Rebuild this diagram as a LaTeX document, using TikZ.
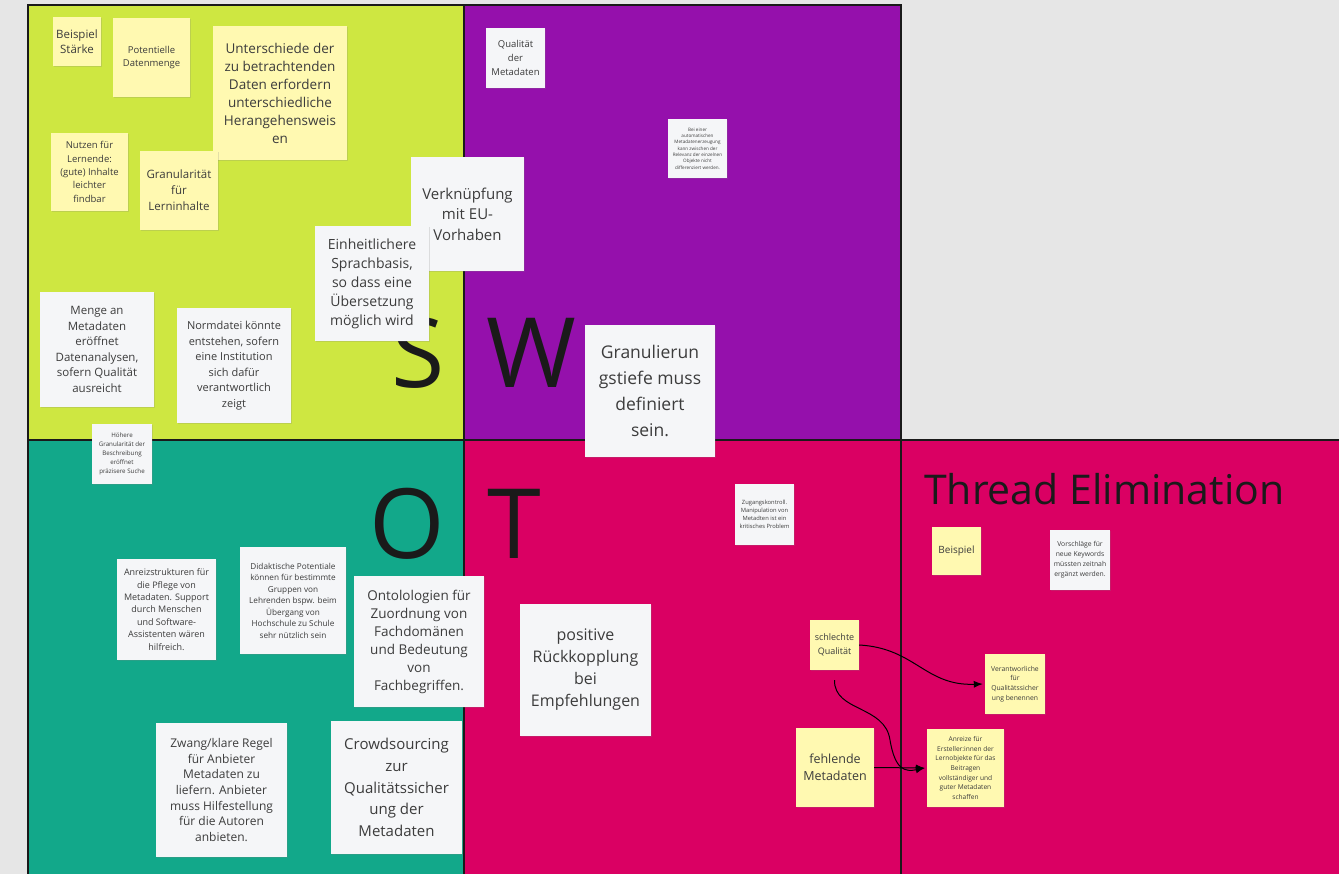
\documentclass[tikz,border=0pt]{standalone}
\usepackage{fontspec}
\setmainfont{Open Sans}
\usetikzlibrary{shadows,arrows.meta}
\definecolor{bgc}{HTML}{E6E6E6}
\definecolor{sq}{HTML}{CEE741}
\definecolor{wq}{HTML}{9510AC}
\definecolor{oq}{HTML}{12A88A}
\definecolor{tq}{HTML}{DA0063}
\definecolor{yel}{HTML}{FFF9B1}
\definecolor{wht}{HTML}{F5F6F8}
\definecolor{txt}{HTML}{3C3C3C}
\definecolor{ink}{HTML}{1A1A1A}
\newcommand\nf[2]{\fontsize{#1}{#2}\selectfont}
\begin{document}
\begin{tikzpicture}[x=1pt,y=-1pt,
  note/.style={align=center, inner sep=0pt, text=txt,
    drop shadow={opacity=0.22, shadow xshift=0.8pt, shadow yshift=-1.3pt}},
  ynote/.style={note, fill=yel},
  wnote/.style={note, fill=wht},
  big/.style={anchor=base west, inner sep=0pt, text=ink, font=\nf{97}{97}},
  conn/.style={draw=black, line width=1pt, -{Latex[length=9pt,width=7pt]}}
]
\useasboundingbox (0,0) rectangle (1339,874);
\clip (0,0) rectangle (1339,874);
\fill[bgc] (0,0) rectangle (1339,874);
% quadrants
\fill[sq] (28,5) rectangle (464,440);
\fill[wq] (464,5) rectangle (901,440);
\fill[oq] (28,440) rectangle (464,880);
\fill[tq] (464,440) rectangle (901,880);
\fill[tq] (901,440) rectangle (1345,880);
\draw[ink, line width=2pt] (28,5) rectangle (464,440);
\draw[ink, line width=2pt] (464,5) rectangle (901,440);
\draw[ink, line width=2pt] (28,440) rectangle (464,880);
\draw[ink, line width=2pt] (464,440) rectangle (901,880);
\draw[ink, line width=2pt] (901,440) rectangle (1345,880);
% big letters
\node[big] (lS) at (391,388) {S};
\node[big] (lW) at (486,388) {W};
\node[big] (lO) at (369,558) {O};
\node[big] (lT) at (487,558) {T};
\node[anchor=base west, inner sep=0pt, text=ink, font=\nf{41}{41}] (thr) at (924,504) {Thread Elimination};
% S notes
\node[ynote, minimum width=48, minimum height=49, font=\nf{11.5}{15}] (n1) at (77,41.5) {Beispiel\\Stärke};
\node[ynote, minimum width=77, minimum height=79, font=\nf{9.5}{13}] (n2) at (151.5,57.5) {Potentielle\\Datenmenge};
\node[ynote, minimum width=134, minimum height=134, font=\nf{13.5}{18}] (n3) at (280,93) {Unterschiede der\\zu betrachtenden\\Daten erfordern\\unterschiedliche\\Herangehensweis\\en};
\node[ynote, minimum width=77, minimum height=78, font=\nf{9.5}{13.3}] (n4) at (89.5,172) {Nutzen für\\Lernende:\\(gute) Inhalte\\leichter\\findbar};
\node[ynote, minimum width=78, minimum height=79, font=\nf{11.5}{16}] (n5) at (179,190.5) {Granularität\\für\\Lerninhalte};
\node[wnote, minimum width=113, minimum height=114, font=\nf{15}{20.5}] (n6) at (467.5,214) {Verknüpfung\\mit EU-\\Vorhaben};
\node[wnote, minimum width=114, minimum height=115, font=\nf{14}{19}] (n7) at (372,283.5) {Einheitlichere\\Sprachbasis,\\so dass eine\\Übersetzung\\möglich wird};
\node[wnote, minimum width=114, minimum height=115, font=\nf{11.5}{15.5}] (n8) at (97,349.5) {Menge an\\Metadaten\\eröffnet\\Datenanalysen,\\sofern Qualität\\ausreicht};
\node[wnote, minimum width=114, minimum height=115, font=\nf{11}{15.5}] (n9) at (234,365.5) {Normdatei könnte\\entstehen, sofern\\eine Institution\\sich dafür\\verantwortlich\\zeigt};
% W notes
\node[wnote, minimum width=59, minimum height=60, font=\nf{9.5}{14}] (n10) at (515.5,58) {Qualität\\der\\Metadaten};
\node[wnote, minimum width=59, minimum height=59, font=\nf{4.6}{6.3}] (n11) at (697.5,148.5) {Bei einer\\automatischen\\Metadatenerzeugung\\kann zwischen der\\Relevanz der einzelnen\\Objekte nicht\\differenziert werden.};
\node[wnote, minimum width=130, minimum height=132, font=\nf{17.5}{26}] (n12) at (650,391) {Granulierun\\gstiefe muss\\definiert\\sein.};
% O notes
\node[wnote, minimum width=60, minimum height=60, font=\nf{6.2}{9}] (n13) at (122,454) {Höhere\\Granularität der\\Beschreibung\\eröffnet\\präzisere Suche};
\node[wnote, minimum width=99, minimum height=101, font=\nf{9}{12.4}] (n15) at (166.5,609.5) {Anreizstrukturen für\\die Pflege von\\Metadaten. Support\\durch Menschen\\und Software-\\Assistenten wären\\hilfreich.};
\node[wnote, minimum width=106, minimum height=107, font=\nf{8.2}{11.5}] (n16) at (293,600.5) {Didaktische Potentiale\\können für bestimmte\\Gruppen von\\Lehrenden bspw. beim\\Übergang von\\Hochschule zu Schule\\sehr nützlich sein};
\node[wnote, minimum width=130, minimum height=131, font=\nf{13.5}{18}] (n17) at (419,641.5) {Ontolologien für\\Zuordnung von\\Fachdomänen\\und Bedeutung\\von\\Fachbegriffen.};
\node[wnote, minimum width=131, minimum height=134, font=\nf{12}{15.7}] (n19) at (221.5,790) {Zwang/klare Regel\\für Anbieter\\Metadaten zu\\liefern. Anbieter\\muss Hilfestellung\\für die Autoren\\anbieten.};
\node[wnote, minimum width=131, minimum height=133, font=\nf{15}{21.7}] (n20) at (396.5,787.5) {Crowdsourcing\\zur\\Qualitätssicher\\ung der\\Metadaten};
% T notes
\node[wnote, minimum width=59, minimum height=61, font=\nf{5.8}{8.2}] (n14) at (764.5,514.5) {Zugangskontroll.\\Manipulation von\\Metadten ist ein\\kritisches Problem};
\node[wnote, minimum width=131, minimum height=132, font=\nf{16}{22}] (n18) at (585.5,670) {positive\\Rückkopplung\\bei\\Empfehlungen};
\node[ynote, minimum width=49, minimum height=50, font=\nf{9}{13.5}] (n21) at (834.5,645) {schlechte\\Qualität};
\node[ynote, minimum width=78, minimum height=79, font=\nf{12.5}{17}] (n22) at (835,767.5) {fehlende\\Metadaten};
% Thread Elimination notes
\node[ynote, minimum width=49, minimum height=48, font=\nf{10}{13}] (n23) at (956.5,551) {Beispiel};
\node[wnote, minimum width=60, minimum height=60, font=\nf{6.8}{10}] (n24) at (1080,560) {Vorschläge für\\neue Keywords\\müssten zeitnah\\ergänzt werden.};
\node[ynote, minimum width=60, minimum height=60, font=\nf{6.8}{9.7}] (n25) at (1015,684) {Verantworliche\\für\\Qualitätssicher\\ung benennen};
\node[ynote, minimum width=77, minimum height=78, font=\nf{6.6}{9.7}] (n26) at (965.5,768) {Anreize für\\Ersteller:innen der\\Lernobjekte für das\\Beitragen\\vollständiger und\\guter Metadaten\\schaffen};
% connectors
\coordinate (a2s) at ([yshift=-10pt]n21.south);
\draw[conn] (n21.east) .. controls (915,648) and (925,686) .. ([xshift=-2pt]n25.west);
\draw[conn] (a2s) .. controls (834,712) and (885,705) .. (890,740) .. controls (895,770) and (905,772) .. ([xshift=-2pt]n26.west);
\draw[conn] (n22.east) -- ([xshift=-2pt]n26.west);
\end{tikzpicture}
\end{document}
